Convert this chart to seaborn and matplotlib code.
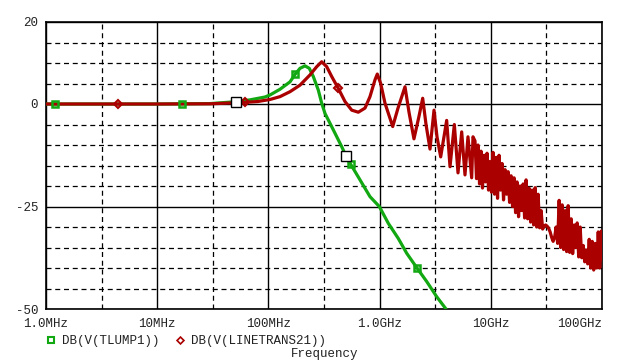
import numpy as np
import pandas as pd
import seaborn as sns
import matplotlib.pyplot as plt
from matplotlib.lines import Line2D
from matplotlib.ticker import FixedLocator, MultipleLocator, NullFormatter

# values (frequency in MHz, magnitude in dB)
green_mhz = [1, 10, 30, 50.9, 68, 93, 103.4, 127.2, 156.4, 173.5, 192.4, 213.4, 233.2,
             253.4, 281, 301.5, 322.8, 383.4, 456.2, 497, 549.7, 666.3, 819.6, 993.8,
             1197.6, 1473, 1752, 2156, 2652, 3262, 3955]
green_db = [0, 0, 0.1, 0.56, 1.0, 1.7, 2.2, 3.6, 5.4, 7.2, 8.7, 9.3, 8.7,
            6.7, 3.4, 0.2, -2.3, -6.3, -10.4, -12.6, -14.7, -18.5, -22.6, -25,
            -29.1, -32.8, -36.4, -39.9, -43.3, -47, -50]

# smooth part and first resonances of the line model
red_mhz = [1, 10, 30, 50, 61.6, 80, 103.4, 127.2, 156.4, 192.4, 236.7, 271.9, 301.5,
           334.4, 371, 425.2, 488.5, 561.3, 643.4, 739.1, 819.6, 909.1, 953.4, 1023,
           1118, 1240, 1312, 1464, 1692, 1838, 2037, 2261, 2441, 2615, 2840, 3085,
           3282, 3543, 4010, 4297, 4700, 5071, 5473, 5860, 6234, 6730, 6917]
red_db = [0, 0, 0.05, 0.3, 0.4, 0.6, 1.1, 1.8, 3.0, 4.6, 7.1, 9.1, 10.3,
          9.1, 6.7, 3.8, 0.6, -1.5, -2.0, -1.0, 1.8, 5.9, 7.3, 5.0,
          0.2, -3.5, -5.5, -1, 4.2, -2, -8.5, -3, 1.4, -5, -11, -1.5,
          -8, -12.9, -4, -15.3, -5, -16.8, -6.8, -17.3, -8, -18, -8]

# noisy band above ~7 GHz (frequency in GHz)
noise_ghz = [7.21, 7.44, 7.67, 7.92, 8.17, 8.42, 8.69, 8.97, 9.25, 9.54, 9.84, 10.15,
             10.47, 10.81, 11.15, 11.50, 11.86, 12.24, 12.62, 13.02, 13.43, 13.86,
             14.30, 14.75, 15.21, 15.69, 16.19, 16.70, 17.23, 17.77, 18.34, 18.91,
             19.51, 20.13, 20.76, 21.42, 22.10, 22.80, 23.52, 24.26, 25.03, 25.82,
             26.63, 27.48, 28.34, 29.24, 30.16, 31.12, 32.10, 33.11, 34.16, 35.24,
             36.35, 37.50, 38.69, 39.91, 41.17, 42.47, 43.81, 45.20, 46.63, 48.10,
             49.62, 51.19, 52.81, 54.48, 56.20, 57.98, 59.81, 61.70, 63.65, 65.66,
             67.74, 69.88, 72.09, 74.37, 76.72, 79.14, 81.64, 84.22, 86.89, 89.63,
             92.47, 95.39, 98.41, 100.0]
noise_db = [-9, -18.2, -10, -19.5, -11.5, -20.5, -12.5, -19, -12, -21, -14, -21.5,
            -11.8, -22, -13, -23, -12.5, -21, -14.5, -23.4, -16, -22,
            -16.5, -24, -17.5, -25, -18, -26.5, -19, -27.5, -20, -26,
            -19.5, -27.8, -18.5, -28, -20.5, -28.8, -21, -29.5, -20.4, -30,
            -22, -30.2, -26, -30.5, -29.8, -29.5, -29.8, -30.3, -31.2, -32.5,
            -33.5, -32.5, -30, -34, -23.5, -35, -24.6, -35.5, -26, -36,
            -24.8, -36.2, -28, -36.5, -29.5, -35, -29, -37.3, -30, -37.5,
            -34.5, -38.5, -35.6, -39, -33, -40, -33.5, -40.5, -34, -40,
            -31.2, -40, -31, -38]

green_mark_mhz = [1.2, 16.7, 173.5, 549.7, 2156]
green_mark_db = [0, 0, 7.2, -14.7, -39.9]
red_mark_mhz = [4.47, 61.6, 425.2]
red_mark_db = [0, 0.4, 3.8]
cursor_mhz = [50.9, 497]
cursor_db = [0.56, -12.6]

xtick_hz = [1e6, 1e7, 1e8, 1e9, 1e10, 1e11]
xtick_labels = ['1.0MHz', '10MHz', '100MHz', '1.0GHz', '10GHz', '100GHz']
ytick_vals = [-50, -25, 0, 20]
ytick_labels = ['-50', '-25', '0', '20']

GREEN = '#12a812'
RED = '#aa0000'

sns.set_style('white')
plt.rcParams['font.family'] = ['Liberation Mono', 'DejaVu Sans Mono']
plt.rcParams['axes.unicode_minus'] = False

green = pd.DataFrame({'f': np.array(green_mhz) * 1e6, 'db': green_db})
red = pd.DataFrame({'f': np.concatenate([np.array(red_mhz) * 1e6, np.array(noise_ghz) * 1e9]),
                    'db': red_db + noise_db})

fig = plt.figure(figsize=(6.2, 3.63), dpi=100)
ax = fig.add_axes([46 / 620, 1 - 309 / 363, 556 / 620, 287 / 363])
ax.set_xscale('log')

sns.lineplot(data=green, x='f', y='db', ax=ax, color=GREEN, lw=2.3,
             estimator=None, sort=False, zorder=3)
sns.lineplot(data=red, x='f', y='db', ax=ax, color=RED, lw=2.3,
             estimator=None, sort=False, zorder=4)
ax.plot(np.array(green_mark_mhz) * 1e6, green_mark_db, ls='none', marker='s', ms=5,
        mfc='none', mec=GREEN, mew=1.8, zorder=5)
ax.plot(np.array(red_mark_mhz) * 1e6, red_mark_db, ls='none', marker='D', ms=4,
        mfc='none', mec=RED, mew=1.5, zorder=5)
ax.plot(np.array(cursor_mhz) * 1e6, cursor_db, ls='none', marker='s', ms=7,
        mfc='white', mec='black', mew=1.0, zorder=6)

ax.set_xlim(1e6, 1e11)
ax.set_ylim(-50, 20)
ax.xaxis.set_major_locator(FixedLocator(xtick_hz))
ax.xaxis.set_minor_locator(FixedLocator([10 ** (k + 0.5) for k in range(6, 11)]))
ax.xaxis.set_minor_formatter(NullFormatter())
ax.set_xticklabels(xtick_labels)
ax.get_xticklabels()[-1].set_horizontalalignment('right')
ax.yaxis.set_major_locator(FixedLocator(ytick_vals))
ax.yaxis.set_minor_locator(MultipleLocator(5))
ax.set_yticklabels(ytick_labels)

ax.tick_params(which='major', direction='out', length=3.6, width=1, color='black',
               labelsize=9, labelcolor='#222222', pad=3)
ax.tick_params(axis='y', pad=2)
ax.tick_params(which='minor', length=0)
ax.grid(which='major', color='black', lw=1.0, ls='-')
ax.grid(which='minor', color='black', lw=0.9, ls=(0, (4, 3)))
ax.set_axisbelow(True)
for s in ax.spines.values():
    s.set_visible(True)
    s.set_color('black')
    s.set_linewidth(1.2)

ax.set_xlabel('')
ax.set_ylabel('')

handles = [Line2D([], [], ls='none', marker='s', ms=5, mfc='none', mec=GREEN, mew=1.5),
           Line2D([], [], ls='none', marker='D', ms=3.5, mfc='none', mec=RED, mew=1.2)]
fig.legend(handles, ['DB(V(TLUMP1))', 'DB(V(LINETRANS21))'], loc='center left',
           bbox_to_anchor=(46 / 620, 1 - 341 / 363), ncol=2, frameon=False,
           fontsize=9, handlelength=0.8, handletextpad=0.5, columnspacing=1.2,
           borderpad=0, borderaxespad=0, labelcolor='#222222')
fig.text(325 / 620, 1 - 354 / 363, 'Frequency', ha='center', va='center',
         fontsize=9, color='#222222')

fig.savefig('out.png', dpi=100)
